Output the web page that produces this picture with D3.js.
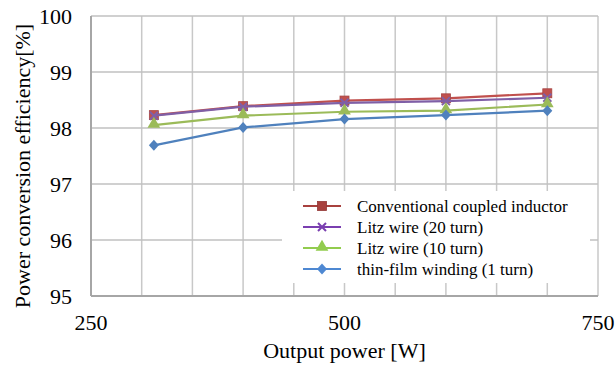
<!DOCTYPE html>
<html>
<head>
<meta charset="utf-8">
<script src="https://cdn.jsdelivr.net/npm/d3@7"></script>
<style>
  html, body { margin: 0; padding: 0; background: #fff; }
  svg { display: block; }
</style>
</head>
<body>
<svg id="chart" width="616" height="369"></svg>
<script>
// Output power (W) at each measurement point
const power = [312, 400, 500, 600, 700];

// Efficiency (%) for each winding type
const conventional = [98.23, 98.39, 98.49, 98.53, 98.62];
const litz20 = [98.22, 98.38, 98.45, 98.48, 98.54];
const litz10 = [98.05, 98.22, 98.29, 98.31, 98.42];
const thinFilm = [97.69, 98.01, 98.16, 98.23, 98.31];

const seriesNames = [
  "Conventional coupled inductor",
  "Litz wire (20 turn)",
  "Litz wire (10 turn)",
  "thin-film winding (1 turn)"
];

// Axis ticks
const xGridTicks = [300, 350, 400, 450, 500, 550, 600, 650, 700, 750];
const xLabelTicks = [250, 500, 750];
const yTicks = [95, 96, 97, 98, 99, 100];

const series = [
  { name: seriesNames[0], values: conventional, color: "#C0504D", key: "#A8413E", marker: "square" },
  { name: seriesNames[1], values: litz20, color: "#7F5FA6", key: "#7A3FB0", marker: "cross" },
  { name: seriesNames[2], values: litz10, color: "#9BBB59", key: "#92CC4E", marker: "triangle" },
  { name: seriesNames[3], values: thinFilm, color: "#4F81BD", key: "#4E88D2", marker: "diamond" }
];

const FONT = "'Liberation Serif', 'Times New Roman', Tinos, serif";

const svg = d3.select("#chart");
const plot = { left: 91, right: 598, top: 16, bottom: 296 };

const x = d3.scaleLinear().domain([250, 750]).range([plot.left, plot.right]);
const y = d3.scaleLinear().domain([95, 100]).range([plot.bottom, plot.top]);

// Gridlines
const grid = svg.append("g");
grid.selectAll("line.v").data(xGridTicks).join("line")
  .attr("x1", d => x(d)).attr("x2", d => x(d))
  .attr("y1", plot.top).attr("y2", plot.bottom)
  .attr("stroke", "#C8C8C8").attr("stroke-width", 1.5);
grid.selectAll("line.h").data(yTicks.slice(1)).join("line")
  .attr("x1", plot.left).attr("x2", plot.right)
  .attr("y1", d => y(d)).attr("y2", d => y(d))
  .attr("stroke", "#C0C0C0").attr("stroke-width", 1.5);

// Axis lines
svg.append("line")
  .attr("x1", plot.left).attr("x2", plot.left)
  .attr("y1", plot.top).attr("y2", plot.bottom)
  .attr("stroke", "#A6A6A6").attr("stroke-width", 2);
svg.append("line")
  .attr("x1", plot.left).attr("x2", plot.right)
  .attr("y1", plot.bottom).attr("y2", plot.bottom)
  .attr("stroke", "#A6A6A6").attr("stroke-width", 2);

// Tick labels
svg.append("g").selectAll("text").data(yTicks).join("text")
  .attr("x", 72).attr("y", d => y(d) + 7.5)
  .attr("text-anchor", "end")
  .style("font-family", FONT)
  .style("font-size", "22px")
  .attr("fill", "#000")
  .text(d => d);
svg.append("g").selectAll("text").data(xLabelTicks).join("text")
  .attr("x", d => x(d)).attr("y", 330)
  .attr("text-anchor", "middle")
  .style("font-family", FONT)
  .style("font-size", "22px")
  .attr("fill", "#000")
  .text(d => d);

// Axis titles
svg.append("text")
  .attr("x", (plot.left + plot.right) / 2).attr("y", 358)
  .attr("text-anchor", "middle")
  .style("font-family", FONT)
  .style("font-size", "22px")
  .text("Output power [W]");
svg.append("text")
  .attr("transform", "translate(30,166) rotate(-90)")
  .attr("text-anchor", "middle")
  .style("font-family", FONT)
  .style("font-size", "22px")
  .text("Power conversion efficiency[%]");

// Marker drawing
function drawMarker(g, type, color) {
  if (type === "square") {
    g.append("rect").attr("x", -4.5).attr("y", -4.5).attr("width", 9).attr("height", 9)
      .attr("fill", color).attr("stroke", d3.color(color).darker(0.4)).attr("stroke-width", 0.8);
  } else if (type === "cross") {
    g.append("path").attr("d", "M-4,-4L4,4M-4,4L4,-4")
      .attr("stroke", color).attr("stroke-width", 2).attr("fill", "none");
  } else if (type === "triangle") {
    g.append("path").attr("d", d3.symbol(d3.symbolTriangle, 70)())
      .attr("transform", "translate(0,-1)")
      .attr("fill", color);
  } else if (type === "diamond") {
    g.append("path").attr("d", "M0,-5.5L5,0L0,5.5L-5,0Z").attr("fill", color);
  }
}

// Series lines and markers
const line = d3.line().x(d => x(d[0])).y(d => y(d[1]));
series.forEach(s => {
  const pts = power.map((p, i) => [p, s.values[i]]);
  svg.append("path").datum(pts)
    .attr("d", line).attr("fill", "none")
    .attr("stroke", s.color).attr("stroke-width", 2.2);
  svg.append("g").selectAll("g").data(pts).join("g")
    .attr("transform", d => `translate(${x(d[0])},${y(d[1])})`)
    .each(function () { drawMarker(d3.select(this), s.marker, s.color); });
});

// Legend
const legend = svg.append("g");
legend.append("rect")
  .attr("x", 282).attr("y", 191).attr("width", 308).attr("height", 92)
  .attr("fill", "#fff");
const rowY = [206, 227, 248, 269];
series.forEach((s, i) => {
  const g = legend.append("g").attr("transform", `translate(0,${rowY[i]})`);
  g.append("line").attr("x1", 303).attr("x2", 341).attr("y1", 0).attr("y2", 0)
    .attr("stroke", s.key).attr("stroke-width", 2.2);
  drawMarker(g.append("g").attr("transform", "translate(322,0)"), s.marker, s.key);
  g.append("text").attr("x", 357).attr("y", 6)
    .style("font-family", FONT)
    .style("font-size", "17px")
    .attr("fill", "#000")
    .text(s.name);
});
</script>
</body>
</html>
